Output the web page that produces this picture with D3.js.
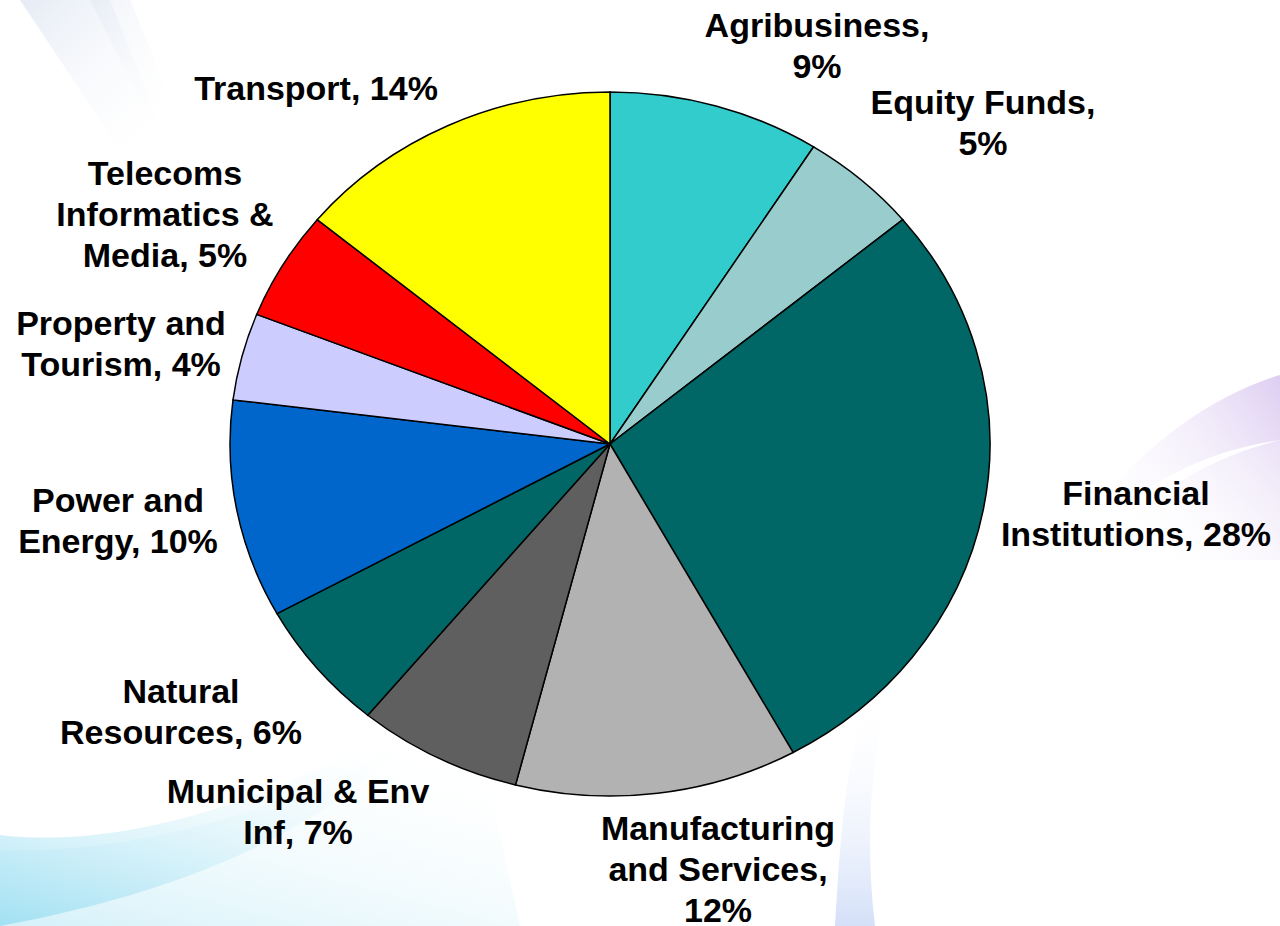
<!DOCTYPE html>
<html lang="en">
<head>
<meta charset="utf-8">
<title>Portfolio by sector</title>
<script src="https://cdn.jsdelivr.net/npm/d3@7/dist/d3.min.js"></script>
<style>
body { margin: 0; background: #ffffff; }
.slice { stroke: #000000; stroke-width: 1.5; vector-effect: non-scaling-stroke; }
.label { font-family: "Liberation Sans", Arial, sans-serif; font-weight: bold; font-size: 34px; fill: #000000; text-anchor: middle; }
</style>
</head>
<body>
<div id="container"></div>
<script>
// data
var sectors = ["Agribusiness", "Equity Funds", "Financial Institutions", "Manufacturing and Services",
  "Municipal & Env Inf", "Natural Resources", "Power and Energy", "Property and Tourism",
  "Telecoms Informatics & Media", "Transport"];
var shares = [9, 5, 28, 12, 7, 6, 10, 4, 5, 14];
var labelLines = [
  ["Agribusiness,", "9%"],
  ["Equity Funds,", "5%"],
  ["Financial", "Institutions, 28%"],
  ["Manufacturing", "and Services,", "12%"],
  ["Municipal & Env", "Inf, 7%"],
  ["Natural", "Resources, 6%"],
  ["Power and", "Energy, 10%"],
  ["Property and", "Tourism, 4%"],
  ["Telecoms", "Informatics &", "Media, 5%"],
  ["Transport, 14%"]
];

// layout
var w = 1280, h = 926;
var cx = 610, cy = 444, rx = 380, ry = 352;
var colors = ["#33CCCC", "#99CCCC", "#006666", "#B2B2B2", "#5F5F5F",
  "#006666", "#0066CC", "#CCCCFF", "#FF0000", "#FFFF00"];
// label anchor: centre x, baseline of first line
var labelPos = [[817, 37], [983, 114], [1136, 505], [718, 840], [298, 803],
  [181, 703], [118, 512], [121, 335], [165, 185], [316, 100]];
var lineH = 41;

var svg = d3.select("#container").append("svg")
  .attr("width", w).attr("height", h)
  .attr("viewBox", "0 0 " + w + " " + h);

// faint background swooshes
var defs = svg.append("defs");
var g1 = defs.append("linearGradient").attr("id", "blueSw").attr("x1", 0).attr("y1", 1).attr("x2", 0.6).attr("y2", 0);
g1.append("stop").attr("offset", 0).attr("stop-color", "#9ddff2").attr("stop-opacity", 0.9);
g1.append("stop").attr("offset", 1).attr("stop-color", "#ffffff").attr("stop-opacity", 0);
var g2 = defs.append("linearGradient").attr("id", "purpSw").attr("x1", 1).attr("y1", 0).attr("x2", 0).attr("y2", 0.6);
g2.append("stop").attr("offset", 0).attr("stop-color", "#d9c8f0").attr("stop-opacity", 0.9);
g2.append("stop").attr("offset", 1).attr("stop-color", "#ffffff").attr("stop-opacity", 0);
var g3 = defs.append("linearGradient").attr("id", "vertSw").attr("x1", 0).attr("y1", 1).attr("x2", 0).attr("y2", 0);
g3.append("stop").attr("offset", 0).attr("stop-color", "#c9d8f7").attr("stop-opacity", 0.8);
g3.append("stop").attr("offset", 1).attr("stop-color", "#ffffff").attr("stop-opacity", 0);
var g4 = defs.append("linearGradient").attr("id", "greySw").attr("x1", 0).attr("y1", 0).attr("x2", 1).attr("y2", 1);
g4.append("stop").attr("offset", 0).attr("stop-color", "#dfe6f2").attr("stop-opacity", 0.8);
g4.append("stop").attr("offset", 1).attr("stop-color", "#ffffff").attr("stop-opacity", 0);

svg.append("path").attr("fill", "url(#blueSw)")
  .attr("d", "M0,835 C120,850 300,800 450,690 C380,790 250,880 0,926 Z");
svg.append("path").attr("fill", "url(#blueSw)")
  .attr("d", "M0,850 C150,855 330,800 470,700 L520,926 L0,926 Z").attr("opacity", 0.5);
svg.append("path").attr("fill", "url(#purpSw)")
  .attr("d", "M1280,375 C1200,400 1120,460 1060,560 C1140,480 1210,450 1280,440 Z");
svg.append("path").attr("fill", "url(#purpSw)")
  .attr("d", "M1280,440 C1200,460 1140,500 1100,560 L1280,560 Z").attr("opacity", 0.6);
svg.append("path").attr("fill", "url(#vertSw)")
  .attr("d", "M835,926 C840,840 845,760 870,690 L890,690 C870,760 865,840 875,926 Z");
svg.append("path").attr("fill", "url(#greySw)")
  .attr("d", "M20,0 L110,0 L170,150 L120,150 Z");
svg.append("path").attr("fill", "url(#greySw)")
  .attr("d", "M90,0 L130,0 L180,120 L150,120 Z").attr("opacity", 0.6);

// pie
var pie = d3.pie().sort(null).value(function(d) { return d; });
var arc = d3.arc().innerRadius(0).outerRadius(rx);

var pieG = svg.append("g")
  .attr("transform", "translate(" + cx + "," + cy + ") scale(1," + (ry / rx) + ")");

pieG.selectAll("path")
  .data(pie(shares))
  .enter()
  .append("path")
  .attr("class", "slice")
  .attr("d", arc)
  .style("fill", function(d, i) { return colors[i]; });

// labels
var labels = svg.selectAll("text.label")
  .data(sectors)
  .enter()
  .append("text")
  .attr("class", "label")
  .attr("x", function(d, i) { return labelPos[i][0]; })
  .attr("y", function(d, i) { return labelPos[i][1]; });

labels.each(function(d, i) {
  var t = d3.select(this);
  labelLines[i].forEach(function(line, j) {
    t.append("tspan")
      .attr("x", labelPos[i][0])
      .attr("dy", j === 0 ? 0 : lineH)
      .text(line);
  });
});
</script>
</body>
</html>
